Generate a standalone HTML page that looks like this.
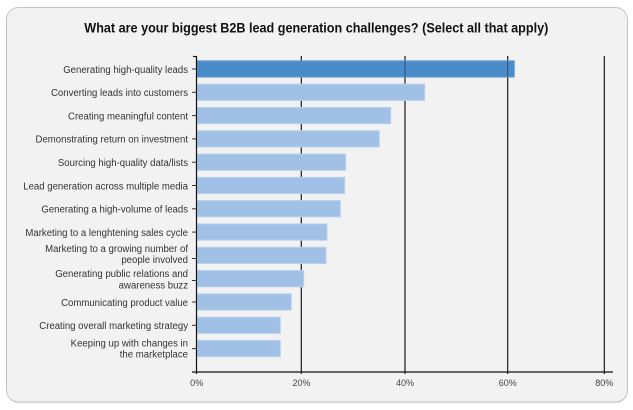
<!DOCTYPE html>
<html>
<head>
<meta charset="utf-8">
<style>
html,body{margin:0;padding:0;background:#ffffff;}
svg{display:block;}
text{font-family:"Liberation Sans",Arial,sans-serif;}
</style>
</head>
<body>
<svg width="633" height="410" viewBox="0 0 633 410" xmlns="http://www.w3.org/2000/svg">
  <rect x="0" y="0" width="633" height="410" fill="#ffffff"/>
  <!-- panel -->
  <rect x="7" y="8.5" width="621" height="395" rx="12" ry="12" fill="#d8d8d8" opacity="0.5"/>
  <rect x="6.5" y="7.5" width="621" height="394.5" rx="12" ry="12" fill="#f2f2f2" stroke="#c4c4c4" stroke-width="1"/>

  <!-- title -->
  <text x="316.3" y="32.5" text-anchor="middle" font-size="13.5" font-weight="bold" fill="#111" textLength="464" lengthAdjust="spacingAndGlyphs">What are your biggest B2B lead generation challenges? (Select all that apply)</text>

  <!-- gridlines -->
  <g stroke="#1a1a1a" stroke-width="1.2">
    <line x1="301.3" y1="56" x2="301.3" y2="374"/>
    <line x1="405" y1="56" x2="405" y2="374"/>
    <line x1="507.7" y1="56" x2="507.7" y2="374"/>
    <line x1="604.3" y1="56" x2="604.3" y2="374"/>
  </g>

  <!-- bars -->
  <g stroke-width="1">
    <rect x="197" y="60.8" width="317.3" height="16.3" fill="#4a8cca" stroke="#6a9fd4"/>
    <rect x="197" y="84.1" width="227.7" height="16.3" fill="#a0c0e6" stroke="#b9d1ee"/>
    <rect x="197" y="107.4" width="193.7" height="16.3" fill="#a0c0e6" stroke="#b9d1ee"/>
    <rect x="197" y="130.7" width="182.3" height="16.3" fill="#a0c0e6" stroke="#b9d1ee"/>
    <rect x="197" y="154.0" width="148.7" height="16.3" fill="#a0c0e6" stroke="#b9d1ee"/>
    <rect x="197" y="177.3" width="147.7" height="16.3" fill="#a0c0e6" stroke="#b9d1ee"/>
    <rect x="197" y="200.6" width="143.3" height="16.3" fill="#a0c0e6" stroke="#b9d1ee"/>
    <rect x="197" y="223.9" width="130" height="16.3" fill="#a0c0e6" stroke="#b9d1ee"/>
    <rect x="197" y="247.2" width="129" height="16.3" fill="#a0c0e6" stroke="#b9d1ee"/>
    <rect x="197" y="270.5" width="106.7" height="16.3" fill="#a0c0e6" stroke="#b9d1ee"/>
    <rect x="197" y="293.8" width="94.3" height="16.3" fill="#a0c0e6" stroke="#b9d1ee"/>
    <rect x="197" y="317.1" width="83.3" height="16.3" fill="#a0c0e6" stroke="#b9d1ee"/>
    <rect x="197" y="340.4" width="83.3" height="16.3" fill="#a0c0e6" stroke="#b9d1ee"/>
  </g>
  <!-- gridlines over dark bar -->
  <g stroke="#1a1a1a" stroke-width="1" opacity="0.55">
    <line x1="405" y1="61" x2="405" y2="77"/>
    <line x1="507.7" y1="61" x2="507.7" y2="77"/>
  </g>

  <!-- axes -->
  <g stroke="#111" stroke-width="1.2">
    <line x1="196.5" y1="56" x2="196.5" y2="374"/>
    <line x1="192" y1="372" x2="613" y2="372"/>
    <line x1="193" y1="56.5" x2="196.5" y2="56.5"/>
  </g>
  <!-- y ticks -->
  <g stroke="#333" stroke-width="1">
    <line x1="192" y1="69" x2="196.5" y2="69"/>
    <line x1="192" y1="92.3" x2="196.5" y2="92.3"/>
    <line x1="192" y1="115.6" x2="196.5" y2="115.6"/>
    <line x1="192" y1="138.9" x2="196.5" y2="138.9"/>
    <line x1="192" y1="162.2" x2="196.5" y2="162.2"/>
    <line x1="192" y1="185.5" x2="196.5" y2="185.5"/>
    <line x1="192" y1="208.8" x2="196.5" y2="208.8"/>
    <line x1="192" y1="232.1" x2="196.5" y2="232.1"/>
    <line x1="192" y1="258.5" x2="196.5" y2="258.5"/>
    <line x1="192" y1="280.5" x2="196.5" y2="280.5"/>
    <line x1="192" y1="302" x2="196.5" y2="302"/>
    <line x1="192" y1="325.3" x2="196.5" y2="325.3"/>
    <line x1="192" y1="348.6" x2="196.5" y2="348.6"/>
  </g>

  <!-- category labels -->
  <g font-size="10.5" fill="#333" text-anchor="end">
    <text transform="translate(188,72.8) scale(0.915,1)">Generating high-quality leads</text>
    <text transform="translate(188,96.1) scale(0.915,1)">Converting leads into customers</text>
    <text transform="translate(188,119.4) scale(0.915,1)">Creating meaningful content</text>
    <text transform="translate(188,142.7) scale(0.915,1)">Demonstrating return on investment</text>
    <text transform="translate(188,166.0) scale(0.915,1)">Sourcing high-quality data/lists</text>
    <text transform="translate(188,189.3) scale(0.915,1)">Lead generation across multiple media</text>
    <text transform="translate(188,212.6) scale(0.915,1)">Generating a high-volume of leads</text>
    <text transform="translate(188,235.9) scale(0.915,1)">Marketing to a lenghtening sales cycle</text>
    <text transform="translate(188,252.2) scale(0.915,1)">Marketing to a growing number of</text>
    <text transform="translate(188,263.2) scale(0.915,1)">people involved</text>
    <text transform="translate(188,277.2) scale(0.915,1)">Generating public relations and</text>
    <text transform="translate(188,288.4) scale(0.915,1)">awareness buzz</text>
    <text transform="translate(188,305.8) scale(0.915,1)">Communicating product value</text>
    <text transform="translate(188,329.1) scale(0.915,1)">Creating overall marketing strategy</text>
    <text transform="translate(188,346.4) scale(0.915,1)">Keeping up with changes in</text>
    <text transform="translate(188,357.4) scale(0.915,1)">the marketplace</text>
  </g>

  <!-- x tick labels -->
  <g font-size="9.5" fill="#444" text-anchor="middle">
    <text transform="translate(196.7,386) scale(0.95,1)">0%</text>
    <text transform="translate(301.5,386) scale(0.95,1)">20%</text>
    <text transform="translate(405,386) scale(0.95,1)">40%</text>
    <text transform="translate(507.7,386) scale(0.95,1)">60%</text>
    <text transform="translate(604.3,386) scale(0.95,1)">80%</text>
  </g>
</svg>
</body>
</html>
